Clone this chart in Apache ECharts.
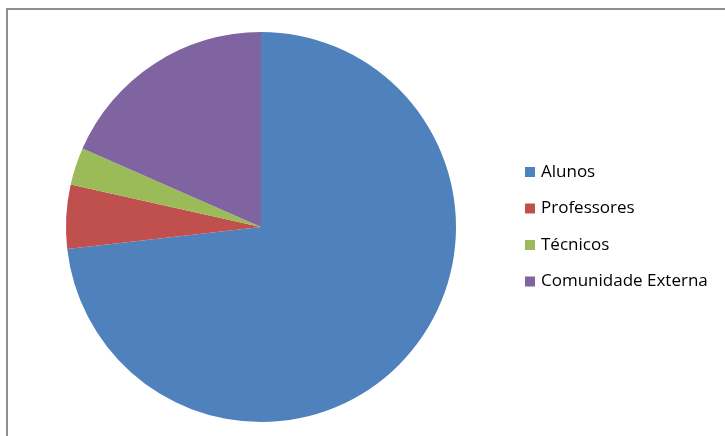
<!DOCTYPE html>
<html>
<head>
<meta charset="utf-8">
<script src="https://cdn.jsdelivr.net/npm/echarts@6/dist/echarts.min.js"></script>
<style>
  html, body { margin: 0; padding: 0; background: #fff; }
  #chart { width: 725px; height: 436px; }
</style>
</head>
<body>
<div id="chart"></div>
<script>
// categorias e valores (%)
var categorias = ['Alunos', 'Professores', 'Técnicos', 'Comunidade Externa'];
var valores = [73.2, 5.3, 3.1, 18.4];
var cores = ['#4F81BD', '#C0504D', '#9BBB59', '#8064A2'];

var chart = echarts.init(document.getElementById('chart'));

var dados = categorias.map(function (nome, i) {
    return { name: nome, value: valores[i], itemStyle: { color: cores[i] } };
});

chart.setOption({
    animation: false,
    graphic: [
        {
            type: 'rect',
            shape: { x: 7, y: 9, width: 800, height: 500 },
            style: { fill: 'none', stroke: '#8e8e8e', lineWidth: 2 },
            silent: true
        }
    ],
    legend: {
        orient: 'vertical',
        left: 525,
        top: 163.5,
        padding: 0,
        itemWidth: 10,
        itemHeight: 10,
        itemGap: 19.5,
        icon: 'rect',
        textStyle: {
            fontFamily: 'Open Sans',
            fontSize: 17,
            lineHeight: 17,
            color: '#000',
            padding: [0, 0, 0, 1]
        },
        data: categorias
    },
    series: [
        {
            type: 'pie',
            center: [261, 227],
            radius: 195,
            startAngle: 90,
            clockwise: true,
            label: { show: false },
            labelLine: { show: false },
            emphasis: { disabled: true },
            itemStyle: { borderWidth: 0 },
            data: dados
        }
    ]
});

window.addEventListener('resize', function () {
    chart.resize();
});
</script>
</body>
</html>
